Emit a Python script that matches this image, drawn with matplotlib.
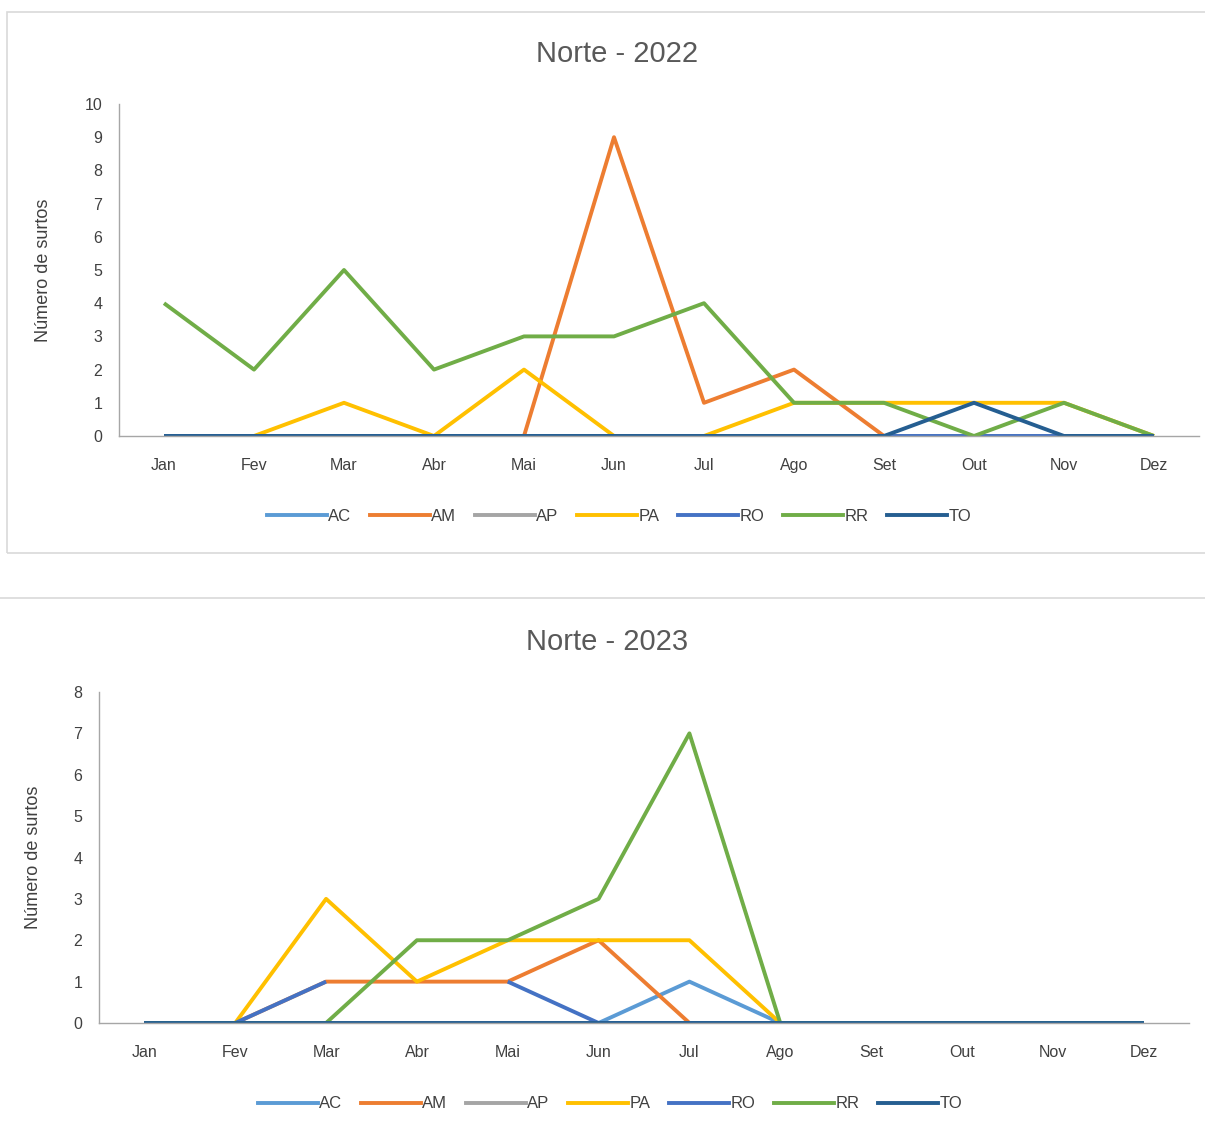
import matplotlib.pyplot as plt
import numpy as np
from matplotlib.patches import Rectangle
from matplotlib.lines import Line2D

plt.rcParams['font.family'] = ['Liberation Sans', 'DejaVu Sans']

months = ['Jan', 'Fev', 'Mar', 'Abr', 'Mai', 'Jun', 'Jul', 'Ago', 'Set', 'Out', 'Nov', 'Dez']
states = ['AC', 'AM', 'AP', 'PA', 'RO', 'RR', 'TO']
colors = ['#5B9BD5', '#ED7D31', '#A5A5A5', '#FFC000', '#4472C4', '#70AD47', '#255E91']

# 2022
ac_22 = [0, 0, 0, 0, 0, 0, 0, 0, 0, 0, 0, 0]
am_22 = [0, 0, 0, 0, 0, 9, 1, 2, 0, 0, 0, 0]
ap_22 = [0, 0, 0, 0, 0, 0, 0, 0, 0, 0, 0, 0]
pa_22 = [0, 0, 1, 0, 2, 0, 0, 1, 1, 1, 1, 0]
ro_22 = [0, 0, 0, 0, 0, 0, 0, 0, 0, 0, 0, 0]
rr_22 = [4, 2, 5, 2, 3, 3, 4, 1, 1, 0, 1, 0]
to_22 = [0, 0, 0, 0, 0, 0, 0, 0, 0, 1, 0, 0]

# 2023
ac_23 = [0, 0, 0, 0, 0, 0, 1, 0, 0, 0, 0, 0]
am_23 = [0, 0, 1, 1, 1, 2, 0, 0, 0, 0, 0, 0]
ap_23 = [0, 0, 0, 0, 0, 0, 0, 0, 0, 0, 0, 0]
pa_23 = [0, 0, 3, 1, 2, 2, 2, 0, 0, 0, 0, 0]
ro_23 = [0, 0, 1, np.nan, 1, 0, 0, 0, 0, 0, 0, 0]
rr_23 = [0, 0, 0, 2, 2, 3, 7, 0, 0, 0, 0, 0]
to_23 = [0, 0, 0, 0, 0, 0, 0, 0, 0, 0, 0, 0]

data_22 = [ac_22, am_22, ap_22, pa_22, ro_22, rr_22, to_22]
data_23 = [ac_23, am_23, ap_23, pa_23, ro_23, rr_23, to_23]

W, H = 1205, 1138
fig = plt.figure(figsize=(W / 100, H / 100), dpi=100)

# panel borders
fig.add_artist(Rectangle((7 / W, 1 - 553 / H), 1.1, (553 - 12) / H, transform=fig.transFigure,
                         fill=False, edgecolor='#D9D9D9', linewidth=1.2))
fig.add_artist(Rectangle((-0.01, -0.05), 1.1, 1 - 598 / H + 0.05, transform=fig.transFigure,
                         fill=False, edgecolor='#D9D9D9', linewidth=1.2))

gray = '#595959'


def draw(rect, series, ymax, title, title_xy, leg_xy, ylab_x):
    ax = fig.add_axes(rect)
    x = np.arange(len(months))
    for vals, lab, c in zip(series, states, colors):
        ax.plot(x, vals, color=c, linewidth=2.8, label=lab, solid_capstyle='butt')
    ax.set_xlim(-0.5, 11.5)
    ax.set_ylim(0, ymax)
    ax.set_yticks(range(ymax + 1))
    ax.set_xticks(x)
    ax.set_xticklabels(months)
    for s in ['top', 'right']:
        ax.spines[s].set_visible(False)
    ax.spines['left'].set_color('#A6A6A6')
    ax.spines['bottom'].set_color('#A6A6A6')
    ax.spines['left'].set_linewidth(1)
    ax.spines['bottom'].set_linewidth(1)
    ax.tick_params(axis='both', length=0, labelsize=11.5, colors='#404040')
    ax.tick_params(axis='x', pad=16)
    ax.tick_params(axis='y', pad=12)
    ax.set_ylabel('Número de surtos', fontsize=13, color='#404040')
    ax.yaxis.set_label_coords(ylab_x, 0.5)
    fig.text(title_xy[0], title_xy[1], title, ha='center', va='center', fontsize=21, color=gray)
    handles = [Line2D([], [], color=c, linewidth=2.8) for c in colors]
    fig.legend(handles, states, loc='center', bbox_to_anchor=leg_xy, ncol=7, frameon=False,
               fontsize=12, handlelength=3.6, handletextpad=0.1, columnspacing=1.1,
               labelcolor='#404040')
    return ax


draw([119 / W, 1 - 436 / H, 1080 / W, 332 / H], data_22, 10, 'Norte - 2022',
     (617 / W, 1 - 54 / H), (619 / W, 1 - 516 / H), -0.062)
draw([99 / W, 1 - 1023 / H, 1090 / W, 331 / H], data_23, 8, 'Norte - 2023',
     (607 / W, 1 - 642 / H), (610 / W, 1 - 1104 / H), -0.052)

fig.savefig('out.png', dpi=100)
